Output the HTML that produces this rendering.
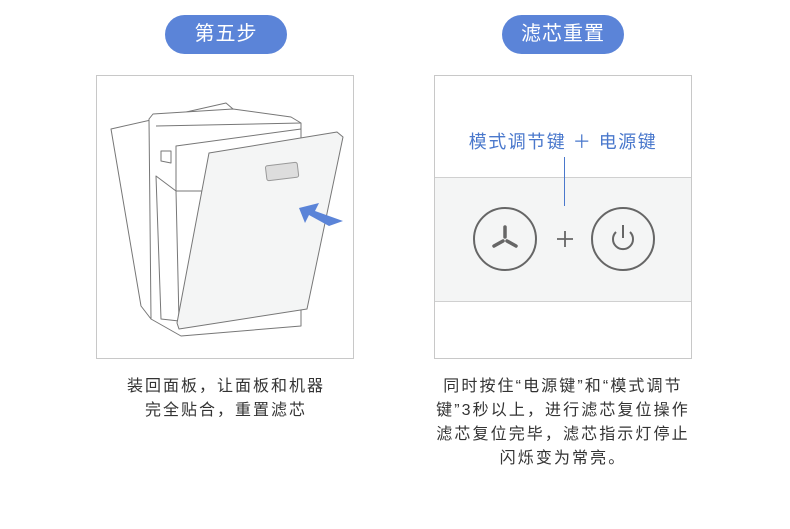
<!DOCTYPE html>
<html><head><meta charset="utf-8"><style>
body{margin:0;width:790px;height:529px;background:#fff;position:relative;font-family:"Liberation Sans","Noto Sans CJK SC",sans-serif;overflow:hidden}
.pill{position:absolute;top:15px;width:122px;height:39px;border-radius:20px;background:#5b84d8;color:#fff;font-size:20px;letter-spacing:1px;line-height:39px;text-align:center}
.box{position:absolute;top:75px;width:256px;height:282px;border:1px solid #c8c8c8}
.cap{position:absolute;top:375px;width:320px;text-align:center;font-size:16px;letter-spacing:2px;line-height:24px;color:#333}
</style></head><body>
<div class="pill" style="left:165px">第五步</div>
<div class="pill" style="left:502px">滤芯重置</div>
<div class="box" style="left:96px">
<svg width="256" height="282" viewBox="96 75 256 282" style="position:absolute;left:0;top:0">
<g fill="#fff" stroke="#777" stroke-width="1" stroke-linejoin="round">
<polygon points="110,128 225,102 232,108 150,122 150,318 140,305"/>
<polygon points="148,118 152,113 232,108 290,116 300,122 300,325 180,335 150,318"/>
<path d="M155,125 L300,122" />
<path d="M175,145 L300,128 L300,190 L175,190 Z" fill="#fff"/>
<path d="M160,150 L170,150 L170,162 L160,160 Z"/>
<path d="M155,175 L175,190 L178,320 L160,318 Z"/>
<polygon points="208,152 336,131 342,136 306,308 178,328 176,322" fill="#f4f5f5"/>
<rect x="265" y="163" width="32" height="15" rx="2" fill="#ddd" stroke="#999" transform="rotate(-7 281 170)"/>
</g>
<polygon points="298,207 318,202 314,210 342,220 328,225 308,214 304,222" fill="#5b84d8"/>
</svg>
</div>
<div class="box" style="left:434px">
<div style="position:absolute;left:0;top:101px;width:256px;height:123px;background:#f4f5f5;border-top:1px solid #d0d0d0;border-bottom:1px solid #d0d0d0"></div>
<div style="position:absolute;left:0;top:54px;width:256px;text-align:center;font-size:18px;letter-spacing:1.5px;color:#4a78cc;line-height:24px">模式调节键 ＋ 电源键</div>
<div style="position:absolute;left:129px;top:81px;width:1px;height:49px;background:#4a78cc"></div>
<svg width="256" height="282" viewBox="434 75 256 282" style="position:absolute;left:0;top:0">
<g fill="none" stroke="#666" stroke-width="2">
<circle cx="504" cy="238" r="31"/><circle cx="622" cy="238" r="31"/>
<path d="M556,238 H572 M564,230 V246" stroke-width="1.8"/>
<path d="M504,226 V236 M502,240 L493,245 M506,240 L515,245" stroke-width="3.5" stroke-linecap="round"/>
<path d="M615,231 A10,10 0 1 0 629,231" stroke-width="2"/>
<path d="M622,224 V237" stroke-width="2"/>
</g>
</svg>
</div>
<div class="cap" style="left:66px">装回面板，让面板和机器<br>完全贴合，重置滤芯</div>
<div class="cap" style="left:403px;letter-spacing:2.1px">同时按住“电源键”和“模式调节<br>键”3秒以上，进行滤芯复位操作<br>滤芯复位完毕，滤芯指示灯停止<br>闪烁变为常亮。</div>
</body></html>
